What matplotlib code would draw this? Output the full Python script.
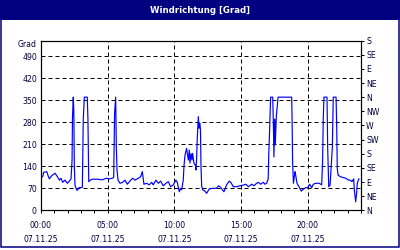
import matplotlib
matplotlib.use("Agg")
import matplotlib.pyplot as plt
from matplotlib.patches import Rectangle

# ---- data (hours since 00:00, wind direction in degrees) ----
hours = [0.00, 0.15, 0.20, 0.43, 0.55, 0.63, 0.80, 1.05, 1.23, 1.38, 1.50, 1.63, 1.80, 1.98,
         2.13, 2.25, 2.33, 2.36, 2.42, 2.46, 2.50, 2.55, 2.68, 2.75, 2.85, 3.10, 3.17, 3.25,
         3.47, 3.52, 3.58, 3.70, 3.85, 4.20, 4.60, 4.90, 5.10, 5.35, 5.45, 5.52, 5.60, 5.65,
         5.70, 5.78, 5.93, 6.12, 6.30, 6.47, 6.67, 6.87, 7.05, 7.30, 7.47, 7.60, 7.72, 7.92,
         8.12, 8.30, 8.42, 8.62, 8.80, 8.97, 9.17, 9.37, 9.55, 9.72, 9.92, 10.12, 10.22, 10.37,
         10.47, 10.55, 10.67, 10.72, 10.80, 10.92, 10.97, 11.05, 11.12, 11.17, 11.25, 11.32,
         11.37, 11.47, 11.57, 11.62, 11.67, 11.72, 11.80, 11.85, 11.92, 11.96, 12.00, 12.05,
         12.13, 12.30, 12.42, 12.62, 12.90, 13.17, 13.30, 13.45, 13.72, 13.92, 14.12, 14.25,
         14.42, 14.70, 14.92, 15.15, 15.37, 15.55, 15.80, 15.97, 16.17, 16.30, 16.47, 16.67,
         16.80, 16.92, 17.04, 17.08, 17.15, 17.22, 17.38, 17.42, 17.47, 17.52, 17.57, 17.65,
         17.78, 18.80, 18.83, 18.87, 18.93, 19.05, 19.10, 19.20, 19.35, 19.52, 19.70, 19.85,
         20.00, 20.15, 20.30, 20.42, 20.62, 20.87, 21.05, 21.12, 21.17, 21.22, 21.45, 21.50,
         21.58, 21.68, 21.85, 21.92, 22.13, 22.18, 22.22, 22.28, 22.45, 22.70, 22.85, 23.07,
         23.20, 23.32, 23.45, 23.50, 23.60, 23.67, 23.72, 23.80, 23.85]
degrees = [102, 110, 121, 123, 108, 100, 110, 118, 107, 96, 102, 89, 96, 86,
           93, 100, 160, 293, 360, 317, 140, 80, 64, 65, 72, 73, 290, 360,
           360, 290, 91, 96, 99, 99, 97, 102, 100, 102, 105, 309, 360, 200,
           128, 96, 86, 89, 96, 83, 93, 102, 96, 102, 107, 123, 83, 86,
           81, 89, 81, 96, 86, 93, 78, 86, 91, 75, 81, 96, 89, 59,
           70, 65, 96, 139, 176, 197, 181, 160, 192, 150, 181, 160,
           181, 150, 144, 128, 165, 229, 298, 261, 277, 255, 139, 77,
           65, 61, 54, 68, 70, 70, 78, 74, 59, 81, 93, 88,
           75, 75, 78, 80, 83, 75, 83, 78, 86, 89, 83, 89,
           83, 86, 100, 176, 261, 360, 360, 290, 170, 290, 208, 300,
           360, 360, 293, 155, 86, 123, 112, 86, 75, 61, 68, 72,
           72, 83, 72, 83, 86, 86, 81, 155, 293, 360, 360, 200,
           75, 80, 200, 360, 360, 261, 134, 112, 107, 104, 102, 96,
           96, 91, 100, 64, 27, 54, 86, 96, 100]

x_major = [0, 5, 10, 15, 20]
x_labels = ["00:00\n07.11.25", "05:00\n07.11.25", "10:00\n07.11.25",
            "15:00\n07.11.25", "20:00\n07.11.25"]
y_left = [0, 70, 140, 210, 280, 350, 420, 490]
y_right = [0, 45, 90, 135, 180, 225, 270, 315, 360, 405, 450, 495, 540]
right_labels = ["N", "NE", "E", "SE", "S", "SW", "W", "NW", "N", "NE", "E", "SE", "S"]

navy = "#000080"
txt = "#000040"
fs = 5.6

fig = plt.figure(figsize=(4, 2.5), dpi=100)
fig.patch.set_facecolor("white")

# title bar and frame
fig.patches.append(Rectangle((0, 1 - 20 / 250), 1, 20 / 250, transform=fig.transFigure,
                             facecolor=navy, edgecolor="none", zorder=0))
fig.patches.append(Rectangle((0.7 / 400, 3.3 / 250), 398.6 / 400, (250 - 3.3) / 250,
                             transform=fig.transFigure, facecolor="none",
                             edgecolor=navy, linewidth=1.1, zorder=1))
fig.text(0.5, 1 - 10.5 / 250, "Windrichtung [Grad]", color="white", fontsize=6.2,
         fontweight="bold", ha="center", va="center")

ax = fig.add_axes([41 / 400, 1 - 210.3 / 250, 320 / 400, (210.3 - 40.6) / 250])
ax.plot(hours, degrees, color="#0000FF", linewidth=0.85, zorder=3)
ax.set_xlim(0, 24)
ax.set_ylim(0, 540)

ax.set_xticks(x_major)
ax.set_xticklabels(x_labels, fontsize=fs, color=txt, linespacing=1.75)
ax.set_xticks(range(0, 25), minor=True)
ax.tick_params(axis="x", which="both", length=2.2, width=0.72, direction="out", pad=5.5,
               colors="black", labelcolor=txt)
ax.set_yticks(y_left)
ax.set_yticklabels([str(v) for v in y_left], fontsize=fs, color=txt)
ax.tick_params(axis="y", length=0, pad=3.0, labelcolor=txt)

for v in y_left[1:]:
    ax.axhline(v, color="black", linewidth=0.72, linestyle=(0, (4, 3)), zorder=1)
for v in x_major[1:]:
    ax.axvline(v, color="black", linewidth=0.72, linestyle=(0, (4, 3)), zorder=1)

for s in ax.spines.values():
    s.set_linewidth(0.8)
    s.set_color("black")

ax2 = ax.twinx()
ax2.set_ylim(0, 540)
ax2.set_yticks(y_right)
ax2.set_yticklabels(right_labels, fontsize=fs, color=txt)
ax2.tick_params(axis="y", length=2.2, width=0.72, pad=1.5, labelcolor=txt)
for s in ax2.spines.values():
    s.set_linewidth(0.8)

fig.text(36.7 / 400, 1 - 45 / 250, "Grad", fontsize=fs, color=txt, ha="right", va="center")

fig.savefig("out.png", dpi=100)
